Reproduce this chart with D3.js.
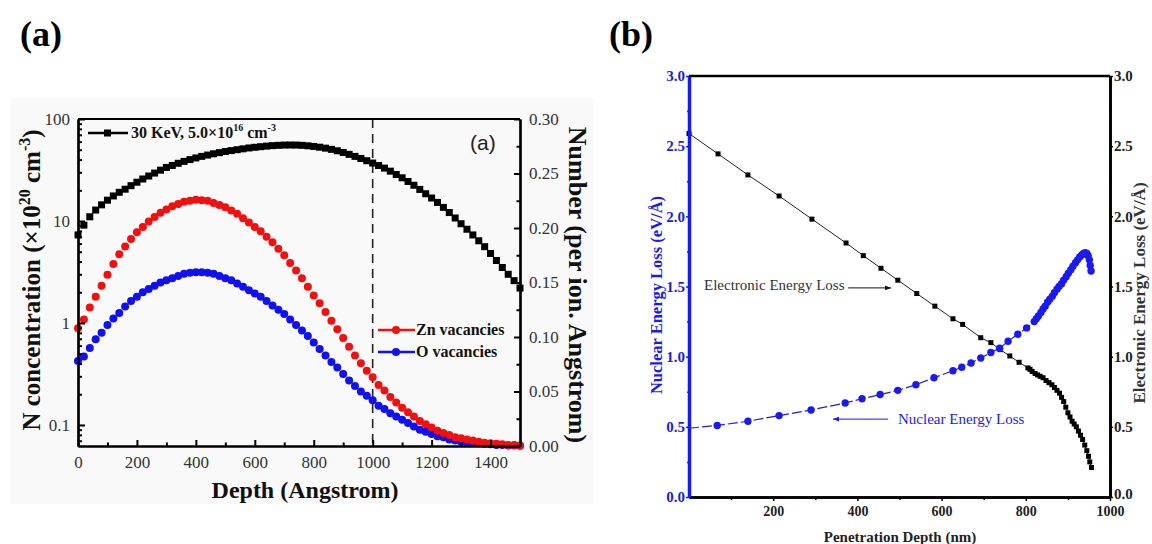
<!DOCTYPE html>
<html>
<head>
<meta charset="utf-8">
<script src="https://cdn.jsdelivr.net/npm/d3@7"></script>
<style>
  body { margin: 0; background: #fff; }
  svg { display: block; }
</style>
</head>
<body>
<svg id="chart" width="1152" height="544"></svg>
<script>
// ---- panel (a) data: depth in Angstrom, every 20 A
const depthA = [0, 20, 40, 60, 80, 100, 120, 140, 160, 180, 200, 220, 240, 260, 280, 300, 320, 340, 360, 380,
  400, 420, 440, 460, 480, 500, 520, 540, 560, 580, 600, 620, 640, 660, 680, 700, 720, 740, 760, 780,
  800, 820, 840, 860, 880, 900, 920, 940, 960, 980, 1000, 1020, 1040, 1060, 1080, 1100, 1120, 1140, 1160, 1180,
  1200, 1220, 1240, 1260, 1280, 1300, 1320, 1340, 1360, 1380, 1400, 1420, 1440, 1460, 1480, 1500]

// N concentration (x10^20 cm^-3), left log axis
const nConc = [7.3, 9.1, 11.0, 12.8, 14.4, 16.0, 17.6, 19.1, 20.5, 22.2, 24.0, 25.8, 27.6, 29.5, 31.5, 33.5, 35.0, 36.8, 38.4, 40.0,
  41.5, 43.0, 44.3, 45.6, 46.8, 48.0, 49.0, 50.0, 51.0, 52.0, 52.8, 53.5, 54.2, 54.8, 55.2, 55.5, 55.6, 55.5, 55.2, 54.6,
  53.8, 52.9, 51.8, 50.4, 48.8, 47.0, 45.0, 43.0, 41.0, 39.0, 37.0, 35.0, 33.0, 30.8, 28.6, 26.5, 24.4, 22.4, 20.4, 18.5,
  16.8, 15.2, 13.6, 12.1, 10.7, 9.4, 8.3, 7.3, 6.4, 5.6, 4.8, 4.1, 3.5, 3.0, 2.6, 2.2]

// vacancies, number per ion.Angstrom, right axis
const znVac = [0.108, 0.116, 0.127, 0.137, 0.147, 0.157, 0.167, 0.176, 0.183, 0.190, 0.196, 0.201, 0.206, 0.210, 0.214, 0.217, 0.220, 0.222, 0.224, 0.225,
  0.226, 0.2255, 0.225, 0.223, 0.221, 0.219, 0.216, 0.213, 0.209, 0.205, 0.201, 0.197, 0.192, 0.187, 0.181, 0.175, 0.168, 0.161, 0.154, 0.146,
  0.138, 0.131, 0.123, 0.115, 0.107, 0.099, 0.091, 0.083, 0.076, 0.069, 0.063, 0.056, 0.051, 0.045, 0.040, 0.035, 0.031, 0.027, 0.023, 0.020,
  0.017, 0.014, 0.012, 0.010, 0.008, 0.007, 0.006, 0.005, 0.004, 0.003, 0.0025, 0.002, 0.0015, 0.001, 0.001, 0.0005]

const oVac = [0.078, 0.082, 0.090, 0.098, 0.104, 0.111, 0.117, 0.122, 0.128, 0.133, 0.137, 0.141, 0.144, 0.147, 0.150, 0.152, 0.154, 0.156, 0.158, 0.159,
  0.1595, 0.1595, 0.159, 0.158, 0.156, 0.154, 0.152, 0.149, 0.146, 0.143, 0.140, 0.137, 0.133, 0.129, 0.125, 0.121, 0.116, 0.111, 0.106, 0.101,
  0.095, 0.089, 0.083, 0.077, 0.072, 0.066, 0.060, 0.055, 0.050, 0.046, 0.042, 0.037, 0.034, 0.030, 0.027, 0.024, 0.021, 0.018, 0.015, 0.013,
  0.011, 0.009, 0.008, 0.006, 0.005, 0.004, 0.0035, 0.003, 0.0025, 0.002, 0.0015, 0.001, 0.001, 0.0005, 0.0005, 0.0003]

const xTicksA = [0, 200, 400, 600, 800, 1000, 1200, 1400]
const xMinorA = [100, 300, 500, 700, 900, 1100, 1300, 1500]
const logTicksA = [0.1, 1, 10, 100]
const rightTicksA = [0, 0.05, 0.1, 0.15, 0.2, 0.25, 0.3]
const rightMinorA = [0.025, 0.075, 0.125, 0.175, 0.225, 0.275]

// ---- panel (b) data: penetration depth in nm
const elecDepth = [0, 69, 140, 214, 292, 373, 414, 456, 496, 541, 584, 627, 650, 693, 717, 739, 762, 784, 805,
  810, 815, 822, 828, 834, 841, 848, 855, 862, 868, 874, 880, 885, 890, 895, 900, 905, 910, 915, 920, 925, 930, 935, 940, 945, 949, 952, 956]
const elecLoss = [2.59, 2.445, 2.295, 2.145, 1.98, 1.81, 1.72, 1.63, 1.545, 1.45, 1.36, 1.27, 1.23, 1.135, 1.10, 1.05, 1.005, 0.96, 0.92,
  0.91, 0.895, 0.88, 0.87, 0.86, 0.85, 0.83, 0.815, 0.80, 0.78, 0.76, 0.74, 0.71, 0.68, 0.64, 0.60, 0.57, 0.54, 0.52, 0.50, 0.47, 0.44, 0.41, 0.37, 0.33, 0.29, 0.25, 0.21]

const nucDepth = [0, 67, 140, 214, 290, 371, 411, 454, 496, 539, 582, 627, 648, 670, 693, 717, 738, 758, 781, 802, 820,
  825, 830, 836, 841, 846, 852, 857, 863, 868, 874, 879, 885, 890, 896, 901, 907, 912, 918, 923, 928, 933, 937, 941, 945, 948, 951, 953, 955]
const nucLoss = [0.49, 0.51, 0.54, 0.58, 0.62, 0.67, 0.70, 0.73, 0.76, 0.80, 0.85, 0.90, 0.925, 0.955, 0.99, 1.03, 1.06, 1.11, 1.16, 1.205, 1.25,
  1.27, 1.29, 1.315, 1.34, 1.36, 1.39, 1.41, 1.43, 1.455, 1.48, 1.50, 1.52, 1.545, 1.57, 1.595, 1.62, 1.645, 1.67, 1.69, 1.71, 1.725, 1.735, 1.74, 1.735, 1.72, 1.69, 1.65, 1.61]

const xTicksB = [200, 400, 600, 800, 1000]
const xMinorB = [100, 300, 500, 700, 900]
const yTicksB = [0, 0.5, 1, 1.5, 2, 2.5, 3]
const yMinorB = [0.25, 0.75, 1.25, 1.75, 2.25, 2.75]

const svg = d3.select('#chart')
const serif = "'Liberation Serif', 'DejaVu Serif', serif"

// panel letters
svg.append('text').attr('x', 20).attr('y', 46).text('(a)')
  .attr('font-family', serif).attr('font-weight', 'bold').attr('font-size', 36)
svg.append('text').attr('x', 609).attr('y', 46).text('(b)')
  .attr('font-family', serif).attr('font-weight', 'bold').attr('font-size', 36)

// =========================== panel (a)
const xA = d3.scaleLinear().domain([0, 1500]).range([78, 520])
const yLog = d3.scaleLog().domain([0.0622, 100]).range([446, 119])
const yNum = d3.scaleLinear().domain([0, 0.3]).range([446, 119])

const gA = svg.append('g')

gA.append('rect')
  .attr('x', 10).attr('y', 98).attr('width', 584).attr('height', 406)
  .attr('fill', '#f9f9f9')

// dashed line at 1000 A
gA.append('line')
  .attr('x1', xA(1000)).attr('x2', xA(1000))
  .attr('y1', yNum(0.3)).attr('y2', yNum(0))
  .attr('stroke', '#222').attr('stroke-width', 1.6)
  .style('stroke-dasharray', '9, 6')

// blue then red then black markers
gA.append('g').selectAll('circle')
  .data(depthA)
  .enter()
  .append('circle')
  .attr('cx', d => xA(d))
  .attr('cy', (d, i) => yNum(oVac[i]))
  .attr('r', 4)
  .attr('fill', '#1010f0')

gA.append('g').selectAll('circle')
  .data(depthA)
  .enter()
  .append('circle')
  .attr('cx', d => xA(d))
  .attr('cy', (d, i) => yNum(znVac[i]))
  .attr('r', 4)
  .attr('fill', '#f01010')

gA.append('g').selectAll('rect')
  .data(depthA)
  .enter()
  .append('rect')
  .attr('x', d => xA(d) - 3.5)
  .attr('y', (d, i) => yLog(nConc[i]) - 3.5)
  .attr('width', 7)
  .attr('height', 7)
  .attr('fill', '#000')

// axes
const tickFontA = g => g.selectAll('text')
  .attr('font-family', serif).attr('font-size', 17).attr('fill', '#333')

const xAxisA = gA.append('g')
  .attr('transform', 'translate(0,446)')
  .call(d3.axisBottom(xA).tickValues(xTicksA).tickSize(-6).tickSizeOuter(0).tickPadding(10).tickFormat(d3.format('d')))
xAxisA.call(tickFontA)
gA.append('g')
  .attr('transform', 'translate(0,446)')
  .call(d3.axisBottom(xA).tickValues(xMinorA).tickSize(-3.5).tickSizeOuter(0).tickFormat(''))

const yAxisL = gA.append('g')
  .attr('transform', 'translate(78,0)')
  .call(d3.axisLeft(yLog).tickValues(logTicksA).tickSize(-7).tickSizeOuter(0).tickPadding(8).tickFormat(d3.format('~g')))
yAxisL.call(tickFontA)
gA.append('g')
  .attr('transform', 'translate(78,0)')
  .call(d3.axisLeft(yLog).tickValues(yLog.ticks().filter(v => logTicksA.indexOf(v) < 0)).tickSize(-4).tickSizeOuter(0).tickFormat(''))

const yAxisR = gA.append('g')
  .attr('transform', 'translate(520,0)')
  .call(d3.axisRight(yNum).tickValues(rightTicksA).tickSize(-6).tickSizeOuter(0).tickPadding(9).tickFormat(d3.format('.2f')))
yAxisR.call(tickFontA)
gA.append('g')
  .attr('transform', 'translate(520,0)')
  .call(d3.axisRight(yNum).tickValues(rightMinorA).tickSize(-3.5).tickSizeOuter(0).tickFormat(''))

gA.append('line').attr('x1', 78).attr('x2', 520).attr('y1', 119).attr('y2', 119)
gA.selectAll('.domain').attr('stroke', '#000').attr('stroke-width', 2.2)
gA.selectAll('.tick line').attr('stroke', '#000').attr('stroke-width', 2)
gA.selectAll('line').filter(function() { return !this.getAttribute('stroke') }).attr('stroke', '#000').attr('stroke-width', 2.2)

// axis titles
const leftTitle = gA.append('text')
  .attr('transform', 'translate(40,280) rotate(-90)')
  .attr('text-anchor', 'middle')
  .attr('font-family', serif).attr('font-weight', 'bold').attr('font-size', 25).attr('fill', '#111')
leftTitle.append('tspan').text('N concentration (\u00d710')
leftTitle.append('tspan').text('20').attr('font-size', 16).attr('dy', -10)
leftTitle.append('tspan').text(' cm').attr('dy', 10)
leftTitle.append('tspan').text('-3').attr('font-size', 16).attr('dy', -10)
leftTitle.append('tspan').text(')').attr('dy', 10)

gA.append('text')
  .attr('transform', 'translate(569,285) rotate(90)')
  .attr('text-anchor', 'middle')
  .attr('font-family', serif).attr('font-weight', 'bold').attr('font-size', 26).attr('fill', '#111')
  .text('Number (per ion. Angstrom)')

gA.append('text')
  .attr('x', 305).attr('y', 498)
  .attr('text-anchor', 'middle')
  .attr('font-family', serif).attr('font-weight', 'bold').attr('font-size', 24).attr('fill', '#111')
  .text('Depth (Angstrom)')

gA.append('text')
  .attr('x', 470).attr('y', 150)
  .attr('font-family', "'Liberation Sans', Arial, sans-serif").attr('font-size', 21).attr('fill', '#222')
  .text('(a)')

// legends
gA.append('line').attr('x1', 88).attr('x2', 128).attr('y1', 133).attr('y2', 133)
  .attr('stroke', '#000').attr('stroke-width', 2.5)
gA.append('rect').attr('x', 104).attr('y', 129.5).attr('width', 7).attr('height', 7).attr('fill', '#000')
const leg1 = gA.append('text').attr('x', 131).attr('y', 138)
  .attr('font-family', serif).attr('font-weight', 'bold').attr('font-size', 16).attr('fill', '#111')
leg1.append('tspan').text('30 KeV, 5.0\u00d710')
leg1.append('tspan').text('16').attr('font-size', 10).attr('dy', -7)
leg1.append('tspan').text(' cm').attr('dy', 7)
leg1.append('tspan').text('-3').attr('font-size', 10).attr('dy', -7)

const vacLegend = [['Zn vacancies', '#f01010', 330], ['O vacancies', '#1010f0', 352]]
vacLegend.forEach(l => {
  gA.append('line').attr('x1', 378).attr('x2', 415).attr('y1', l[2]).attr('y2', l[2])
    .attr('stroke', l[1]).attr('stroke-width', 2.5)
  gA.append('circle').attr('cx', 396).attr('cy', l[2]).attr('r', 4).attr('fill', l[1])
  gA.append('text').attr('x', 416).attr('y', l[2] + 5)
    .attr('font-family', serif).attr('font-weight', 'bold').attr('font-size', 16).attr('fill', '#111')
    .text(l[0])
})

// =========================== panel (b)
const xB = d3.scaleLinear().domain([0, 1000]).range([689, 1110])
const yB = d3.scaleLinear().domain([0, 3]).range([497, 76])

const gB = svg.append('g')

const defs = svg.append('defs')
const arrow = (id, color) => defs.append('marker')
  .attr('id', id).attr('viewBox', '0 0 10 10').attr('refX', 10).attr('refY', 5)
  .attr('markerWidth', 8).attr('markerHeight', 6).attr('orient', 'auto')
  .append('path').attr('d', 'M0,1 L10,5 L0,9 Z').attr('fill', color)
arrow('arrBlack', '#111')
arrow('arrBlue', '#1a1af0')

// electronic energy loss line + squares
const lineB = (xs, ys) => d3.line().x((d, i) => xB(xs[i])).y((d, i) => yB(ys[i]))(xs)

gB.append('path')
  .attr('d', lineB(elecDepth, elecLoss))
  .attr('fill', 'none').attr('stroke', '#222').attr('stroke-width', 1)

gB.append('g').selectAll('rect')
  .data(elecDepth)
  .enter()
  .append('rect')
  .attr('x', d => xB(d) - 2.5)
  .attr('y', (d, i) => yB(elecLoss[i]) - 2.5)
  .attr('width', 5)
  .attr('height', 5)
  .attr('fill', '#000')

// nuclear energy loss dashed line + circles
gB.append('path')
  .attr('d', lineB(nucDepth, nucLoss))
  .attr('fill', 'none').attr('stroke', '#1a1af0').attr('stroke-width', 1.2)
  .style('stroke-dasharray', '10, 3')

gB.append('g').selectAll('circle')
  .data(nucDepth.slice(1))
  .enter()
  .append('circle')
  .attr('cx', d => xB(d))
  .attr('cy', (d, i) => yB(nucLoss[i + 1]))
  .attr('r', 3.7)
  .attr('fill', '#1a1af0')

// axes
const xAxisB = gB.append('g')
  .attr('transform', 'translate(0,497)')
  .call(d3.axisBottom(xB).tickValues(xTicksB).tickSize(4).tickSizeOuter(0).tickPadding(5).tickFormat(d3.format('d')))
gB.append('g')
  .attr('transform', 'translate(0,497)')
  .call(d3.axisBottom(xB).tickValues(xMinorB).tickSize(3).tickSizeOuter(0).tickFormat(''))
xAxisB.selectAll('text').attr('font-family', serif).attr('font-weight', 'bold').attr('font-size', 14).attr('fill', '#222')

const yAxisBR = gB.append('g')
  .attr('transform', 'translate(1110,0)')
  .call(d3.axisRight(yB).tickValues(yTicksB).tickSize(3).tickSizeOuter(0).tickPadding(1).tickFormat(d3.format('.1f')))
gB.append('g')
  .attr('transform', 'translate(1110,0)')
  .call(d3.axisRight(yB).tickValues(yMinorB).tickSize(2).tickSizeOuter(0).tickFormat(''))
yAxisBR.selectAll('text').attr('font-family', serif).attr('font-weight', 'bold').attr('font-size', 15).attr('fill', '#222')
// lift the 0.0 label a touch so it clears the 1000 label below
yAxisBR.selectAll('.tick').filter(d => d === 0).select('text').attr('dy', '0.1em')

gB.append('line').attr('x1', 689).attr('x2', 1110).attr('y1', 76).attr('y2', 76)
  .attr('stroke', '#000').attr('stroke-width', 2.6)
gB.selectAll('.domain').attr('stroke', '#000').attr('stroke-width', 2.6)
gB.selectAll('.tick line').attr('stroke', '#000').attr('stroke-width', 1.5)

const yAxisBL = gB.append('g')
  .attr('transform', 'translate(689,0)')
  .call(d3.axisLeft(yB).tickValues(yTicksB).tickSize(3).tickSizeOuter(0).tickPadding(1).tickFormat(d3.format('.1f')))
const yAxisBLm = gB.append('g')
  .attr('transform', 'translate(689,0)')
  .call(d3.axisLeft(yB).tickValues(yMinorB).tickSize(2).tickSizeOuter(0).tickFormat(''))
yAxisBL.selectAll('text').attr('font-family', serif).attr('font-weight', 'bold').attr('font-size', 15).attr('fill', '#1a1af0')
yAxisBL.select('.domain').attr('stroke', '#1a1af0').attr('stroke-width', 3.5)
yAxisBLm.select('.domain').remove()
yAxisBL.selectAll('.tick line').attr('stroke', '#1a1af0').attr('stroke-width', 1.5)
yAxisBLm.selectAll('.tick line').attr('stroke', '#1a1af0').attr('stroke-width', 1.5)

// axis titles
gB.append('text')
  .attr('transform', 'translate(662,295) rotate(-90)')
  .attr('text-anchor', 'middle')
  .attr('font-family', serif).attr('font-weight', 'bold').attr('font-size', 16.5).attr('fill', '#1a1af0')
  .text('Nuclear Energy Loss (eV/\u00c5)')

gB.append('text')
  .attr('transform', 'translate(1145,293) rotate(-90)')
  .attr('text-anchor', 'middle')
  .attr('font-family', serif).attr('font-weight', 'bold').attr('font-size', 17).attr('fill', '#333')
  .text('Electronic Energy Loss (eV/\u00c5)')

gB.append('text')
  .attr('x', 900).attr('y', 542)
  .attr('text-anchor', 'middle')
  .attr('font-family', serif).attr('font-weight', 'bold').attr('font-size', 15).attr('fill', '#222')
  .text('Penetration Depth (nm)')

// annotations
gB.append('text')
  .attr('x', 704).attr('y', 290)
  .attr('font-family', serif).attr('font-size', 15).attr('fill', '#333')
  .text('Electronic Energy Loss')
gB.append('line')
  .attr('x1', xB(378)).attr('x2', xB(480)).attr('y1', yB(1.49)).attr('y2', yB(1.49))
  .attr('stroke', '#111').attr('stroke-width', 1).attr('marker-end', 'url(#arrBlack)')

gB.append('text')
  .attr('x', 898).attr('y', 424)
  .attr('font-family', serif).attr('font-size', 15).attr('fill', '#1a1af0')
  .text('Nuclear Energy Loss')
gB.append('line')
  .attr('x1', xB(473)).attr('x2', xB(342)).attr('y1', yB(0.555)).attr('y2', yB(0.555))
  .attr('stroke', '#1a1af0').attr('stroke-width', 1).attr('marker-end', 'url(#arrBlue)')
</script>
</body>
</html>
